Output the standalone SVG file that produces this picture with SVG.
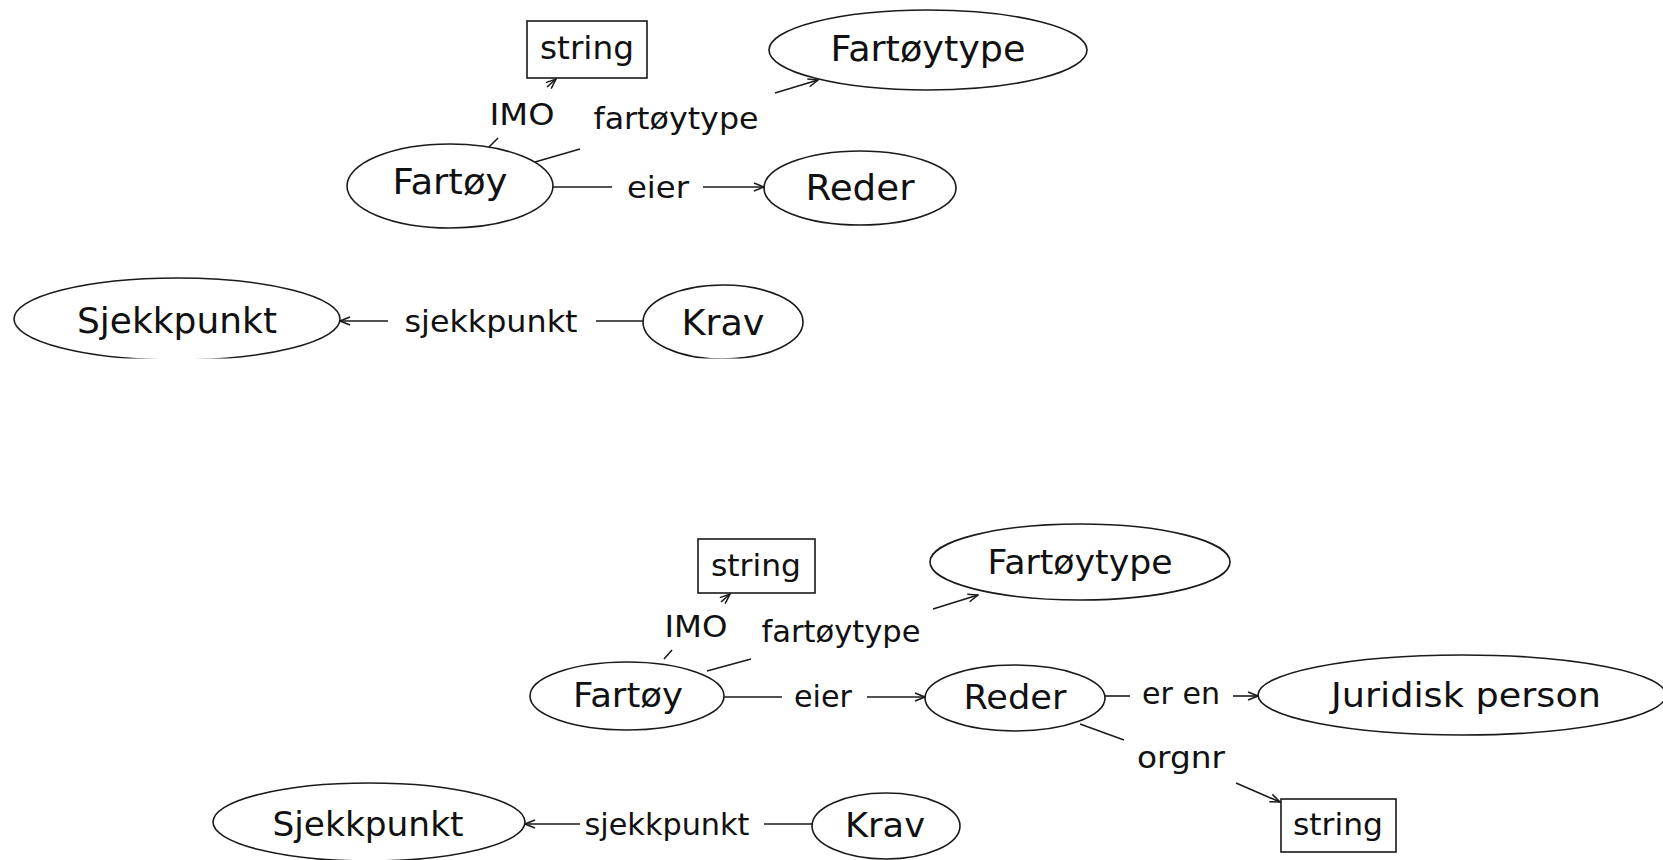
<svg xmlns="http://www.w3.org/2000/svg" width="1663" height="860" viewBox="0 0 1663 860">
  <style>
    .shape { fill: none; stroke: #1a1a1a; stroke-width: 1.6; }
    .edge { fill: none; stroke: #1a1a1a; stroke-width: 1.6; }
    .node { font-family: "DejaVu Sans", "Liberation Sans", sans-serif; fill: #111; text-anchor: middle; }
    .lbl { font-family: "DejaVu Sans", "Liberation Sans", sans-serif; fill: #111; text-anchor: middle; }
  </style>
  <defs>
    <marker id="arrow" viewBox="0 0 12 10" refX="11" refY="5" markerWidth="12" markerHeight="10" markerUnits="userSpaceOnUse" orient="auto">
      <path d="M1,1 L11,5 L1,9" fill="none" stroke="#1a1a1a" stroke-width="1.5"/>
    </marker>
    <clipPath id="cutTop">
      <rect x="0" y="0" width="1663" height="358.5"/>
    </clipPath>
  </defs>
  <rect width="1663" height="860" fill="#ffffff"/>

  <!-- ===== upper graph ===== -->
  <g id="top-string">
    <rect class="shape" x="527" y="21" width="120" height="57"/>
    <text class="lbl" x="587" y="59" font-size="32" textLength="94" lengthAdjust="spacingAndGlyphs">string</text>
  </g>
  <g id="top-fartoytype">
    <ellipse class="shape" cx="928" cy="50" rx="159" ry="40"/>
    <text class="node" x="928" y="61" font-size="35" textLength="195" lengthAdjust="spacingAndGlyphs">Fartøytype</text>
  </g>
  <g id="top-fartoy">
    <ellipse class="shape" cx="450" cy="186" rx="103" ry="42"/>
    <text class="node" x="450" y="194" font-size="35" textLength="115" lengthAdjust="spacingAndGlyphs">Fartøy</text>
  </g>
  <g id="top-reder">
    <ellipse class="shape" cx="860" cy="188" rx="96" ry="37"/>
    <text class="node" x="860" y="200" font-size="35" textLength="109" lengthAdjust="spacingAndGlyphs">Reder</text>
  </g>
  <g id="top-sjekkpunkt" clip-path="url(#cutTop)">
    <ellipse class="shape" cx="177" cy="319" rx="163" ry="41"/>
    <text class="node" x="177" y="333" font-size="36" textLength="200" lengthAdjust="spacingAndGlyphs">Sjekkpunkt</text>
  </g>
  <g id="top-krav" clip-path="url(#cutTop)">
    <ellipse class="shape" cx="723" cy="322" rx="80" ry="37"/>
    <text class="node" x="723" y="335" font-size="36" textLength="83" lengthAdjust="spacingAndGlyphs">Krav</text>
  </g>

  <!-- ===== lower graph ===== -->
  <g id="bot-string-imo">
    <rect class="shape" x="698" y="539" width="117" height="54"/>
    <text class="lbl" x="756" y="576" font-size="31" textLength="90" lengthAdjust="spacingAndGlyphs">string</text>
  </g>
  <g id="bot-fartoytype">
    <ellipse class="shape" cx="1080" cy="562" rx="150" ry="38"/>
    <text class="node" x="1080" y="574" font-size="34" textLength="185" lengthAdjust="spacingAndGlyphs">Fartøytype</text>
  </g>
  <g id="bot-fartoy">
    <ellipse class="shape" cx="627" cy="696" rx="97" ry="34"/>
    <text class="node" x="628" y="707" font-size="34" textLength="110" lengthAdjust="spacingAndGlyphs">Fartøy</text>
  </g>
  <g id="bot-reder">
    <ellipse class="shape" cx="1015" cy="698" rx="90" ry="33"/>
    <text class="node" x="1015" y="709" font-size="34" textLength="103" lengthAdjust="spacingAndGlyphs">Reder</text>
  </g>
  <g id="bot-juridisk">
    <ellipse class="shape" cx="1462" cy="695" rx="204" ry="40"/>
    <text class="node" x="1466" y="707" font-size="34" textLength="270" lengthAdjust="spacingAndGlyphs">Juridisk person</text>
  </g>
  <g id="bot-string-orgnr">
    <rect class="shape" x="1281" y="799" width="115" height="53"/>
    <text class="lbl" x="1338" y="835" font-size="31" textLength="90" lengthAdjust="spacingAndGlyphs">string</text>
  </g>
  <g id="bot-sjekkpunkt">
    <ellipse class="shape" cx="369" cy="822" rx="156" ry="39"/>
    <text class="node" x="368" y="836" font-size="34" textLength="191" lengthAdjust="spacingAndGlyphs">Sjekkpunkt</text>
  </g>
  <g id="bot-krav">
    <ellipse class="shape" cx="886" cy="826" rx="74" ry="33"/>
    <text class="node" x="885" y="837" font-size="34" textLength="80" lengthAdjust="spacingAndGlyphs">Krav</text>
  </g>

  <!-- ===== connectors ===== -->
  <g id="connectors">
    <!-- upper: Fartøy IMO -> string -->
    <line class="edge" x1="489" y1="147" x2="498" y2="138"/>
    <text class="lbl" x="522" y="125" font-size="31" textLength="65" lengthAdjust="spacingAndGlyphs">IMO</text>
    <line class="edge" x1="547" y1="87" x2="556" y2="79" marker-end="url(#arrow)"/>
    <!-- upper: Fartøy fartøytype -> Fartøytype -->
    <line class="edge" x1="535" y1="162" x2="580" y2="149"/>
    <text class="lbl" x="676" y="129" font-size="31" textLength="165" lengthAdjust="spacingAndGlyphs">fartøytype</text>
    <line class="edge" x1="775" y1="93" x2="818" y2="80" marker-end="url(#arrow)"/>
    <!-- upper: Fartøy eier -> Reder -->
    <line class="edge" x1="553" y1="187" x2="612" y2="187"/>
    <text class="lbl" x="658" y="198" font-size="31" textLength="62" lengthAdjust="spacingAndGlyphs">eier</text>
    <line class="edge" x1="703" y1="187" x2="764" y2="187" marker-end="url(#arrow)"/>
    <!-- upper: Krav sjekkpunkt -> Sjekkpunkt -->
    <line class="edge" x1="643" y1="321" x2="596" y2="321"/>
    <text class="lbl" x="491" y="332" font-size="31" textLength="173" lengthAdjust="spacingAndGlyphs">sjekkpunkt</text>
    <line class="edge" x1="388" y1="321" x2="340" y2="321" marker-end="url(#arrow)"/>

    <!-- lower: Fartøy IMO -> string -->
    <line class="edge" x1="664" y1="659" x2="672" y2="650"/>
    <text class="lbl" x="696" y="637" font-size="30" textLength="63" lengthAdjust="spacingAndGlyphs">IMO</text>
    <line class="edge" x1="721" y1="602" x2="730" y2="594" marker-end="url(#arrow)"/>
    <!-- lower: Fartøy fartøytype -> Fartøytype -->
    <line class="edge" x1="707" y1="671" x2="751" y2="659"/>
    <text class="lbl" x="841" y="642" font-size="30" textLength="159" lengthAdjust="spacingAndGlyphs">fartøytype</text>
    <line class="edge" x1="933" y1="609" x2="978" y2="595" marker-end="url(#arrow)"/>
    <!-- lower: Fartøy eier -> Reder -->
    <line class="edge" x1="724" y1="697" x2="782" y2="697"/>
    <text class="lbl" x="823" y="707" font-size="30" textLength="58" lengthAdjust="spacingAndGlyphs">eier</text>
    <line class="edge" x1="867" y1="697" x2="925" y2="697" marker-end="url(#arrow)"/>
    <!-- lower: Reder er en -> Juridisk person -->
    <line class="edge" x1="1105" y1="696" x2="1130" y2="696"/>
    <text class="lbl" x="1181" y="704" font-size="30" textLength="78" lengthAdjust="spacingAndGlyphs">er en</text>
    <line class="edge" x1="1233" y1="696" x2="1258" y2="696" marker-end="url(#arrow)"/>
    <!-- lower: Reder orgnr -> string -->
    <line class="edge" x1="1080" y1="724" x2="1124" y2="740"/>
    <text class="lbl" x="1181" y="768" font-size="30" textLength="88" lengthAdjust="spacingAndGlyphs">orgnr</text>
    <line class="edge" x1="1236" y1="783" x2="1280" y2="802" marker-end="url(#arrow)"/>
    <!-- lower: Krav sjekkpunkt -> Sjekkpunkt -->
    <line class="edge" x1="812" y1="824" x2="764" y2="824"/>
    <text class="lbl" x="667" y="835" font-size="30" textLength="165" lengthAdjust="spacingAndGlyphs">sjekkpunkt</text>
    <line class="edge" x1="580" y1="824" x2="525" y2="824" marker-end="url(#arrow)"/>
  </g>
</svg>
